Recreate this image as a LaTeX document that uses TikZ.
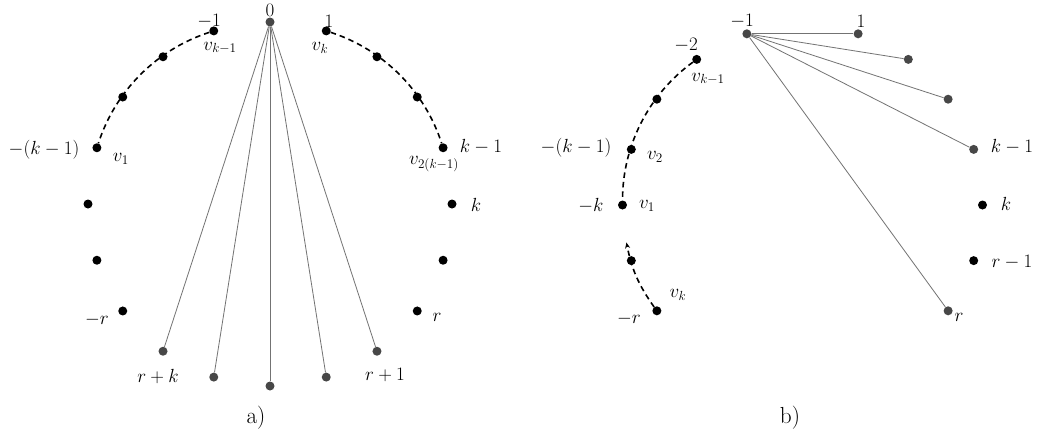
\documentclass[tikz,border=0pt]{standalone}
\usetikzlibrary{arrows.meta}
\begin{document}
\begin{tikzpicture}[x=1pt,y=-1pt,
  dot/.style={circle,fill=black,inner sep=0pt,minimum size=9pt},
  gdot/.style={dot,fill=black!72},
  spoke/.style={draw=black!55,line width=0.8pt},
  dsh/.style={draw=black,line width=1.6pt,dash pattern=on 5.5pt off 4pt},
  lbl/.style={inner sep=0pt,font=\LARGE,scale=1.1},
  captxt/.style={inner sep=0pt,font=\huge,scale=1.12}]
\useasboundingbox[fill=white] (0,0) rectangle (1045,440);

% ---------- a) ----------
\foreach \i in {1,...,7,13,14,...,19}
  \node[dot] (a\i) at ({270+182*cos(90-18*\i)},{204-182*sin(90-18*\i)}) {};
\foreach \i in {0,8,9,10,11,12}
  \node[gdot] (a\i) at ({270+182*cos(90-18*\i)},{204-182*sin(90-18*\i)}) {};

\foreach \j in {8,...,12} \draw[spoke] (a0) -- (a\j);
\draw[dsh] (a19) to[bend right=27,looseness=0.9] (a16);
\draw[dsh] (a1) to[bend left=27,looseness=0.9] (a4);

\node[lbl] (la0) at (270,10) {$0$};
\node[lbl] (la19) at (209,21) {$-1$};
\node[lbl] (lva19) at (220,48) {$v_{k-1}$};
\node[lbl] (la1) at (329,21) {$1$};
\node[lbl] (lva1) at (320,48) {$v_k$};
\node[lbl] (la16) at (44,150) {$-(k-1)$};
\node[lbl] (lva16) at (121,159) {$v_1$};
\node[lbl] (la4) at (481,147) {$k-1$};
\node[lbl] (lva4) at (434,164) {$v_{2(k-1)}$};
\node[lbl] (la5) at (476,205) {$k$};
\node[lbl] (la13) at (97,320) {$-r$};
\node[lbl] (la7) at (437,317) {$r$};
\node[lbl] (la12) at (158,376) {$r+k$};
\node[lbl] (la8) at (385,375) {$r+1$};
\node[captxt] (capa) at (256,418) {a)};

% ---------- b) ----------
\foreach \i in {5,6,13,14,15,16,17,18}
  \node[dot] (b\i) at ({802.5+180*cos(90-18*\i)},{205-180*sin(90-18*\i)}) {};
\foreach \i in {1,2,3,4,7,19}
  \node[gdot] (b\i) at ({802.5+180*cos(90-18*\i)},{205-180*sin(90-18*\i)}) {};
\coordinate (barr) at ({802.5+180*cos(192)},{205-180*sin(192)});

\foreach \j in {1,2,3,4,7} \draw[spoke] (b19) -- (b\j);
\draw[dsh] (b18) to[bend right=27,looseness=0.9] (b15);
\draw[dsh,-{Stealth[length=6pt,width=5pt]}] (b13) to[bend left=12] (barr);

\node[lbl] (lb19) at (742,21) {$-1$};
\node[lbl] (lb1) at (861,21) {$1$};
\node[lbl] (lb18) at (686,45) {$-2$};
\node[lbl] (lvb18) at (708,79) {$v_{k-1}$};
\node[lbl] (lb16) at (576,148) {$-(k-1)$};
\node[lbl] (lvb16) at (655,157) {$v_2$};
\node[lbl] (lb15) at (591,206) {$-k$};
\node[lbl] (lvb15) at (647,206) {$v_1$};
\node[lbl] (lvb13) at (678,295) {$v_k$};
\node[lbl] (lb13) at (629,319) {$-r$};
\node[lbl] (lb4) at (1012,147) {$k-1$};
\node[lbl] (lb5) at (1006,204) {$k$};
\node[lbl] (lb6) at (1012,262) {$r-1$};
\node[lbl] (lb7) at (959,317) {$r$};
\node[captxt] (capb) at (790,418) {b)};
\end{tikzpicture}
\end{document}
